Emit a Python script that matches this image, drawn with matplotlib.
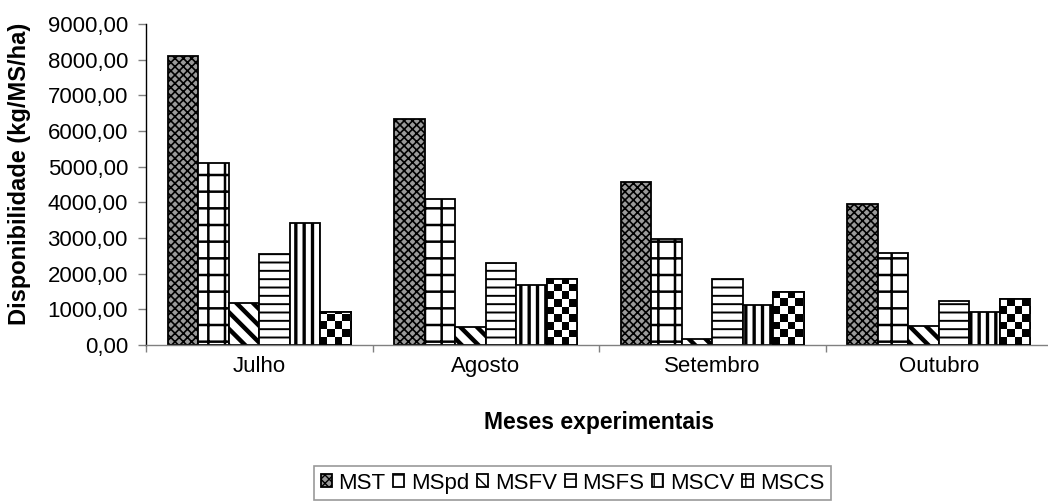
import numpy as np
import matplotlib
matplotlib.use("Agg")
import matplotlib.pyplot as plt
from matplotlib.ticker import FuncFormatter, FixedLocator
from matplotlib.patches import Rectangle

plt.rcParams['font.family'] = ['Liberation Sans', 'DejaVu Sans']

# data
meses = ['Julho', 'Agosto', 'Setembro', 'Outubro']
series = ['MST', 'MSpd', 'MSFV', 'MSFS', 'MSCV', 'MSCS']
mst = [8100, 6350, 4560, 3950]
mspd = [5100, 4100, 2970, 2570]
msfv = [1170, 510, 160, 520]
msfs = [2560, 2300, 1850, 1240]
mscv = [3430, 1690, 1130, 920]
mscs = [930, 1850, 1490, 1300]
valores = [mst, mspd, msfv, msfs, mscv, mscs]

# styles: (facecolor, hatch, hatch linewidth)
estilos = [
    ('#9a9a9a', 'xxxx', 1.2),
    ('white', '+', 1.8),
    ('white', '\\\\', 3.2),
    ('white', '--', 1.4),
    ('white', '||', 2.4),
    ('white', '', 1.0),
]

FS = 16
W, H = 1048, 504
fig = plt.figure(figsize=(W / 100, H / 100), dpi=100)
ax = fig.add_axes([146 / W, (H - 345) / H, 906 / W, 321 / H])

x = np.arange(len(meses))
bw = 0.135
barras = []
for i, (vals, (fc, hatch, hlw)) in enumerate(zip(valores, estilos)):
    with plt.rc_context({'hatch.linewidth': hlw, 'hatch.color': 'black'}):
        b = ax.bar(x + (i - 2.5) * bw, vals, bw, color=fc, hatch=hatch,
                   edgecolor='black', linewidth=1.3, label=series[i], zorder=2)
        for p in b:
            if hasattr(p, 'set_hatch_linewidth'):
                p.set_hatch_linewidth(hlw)
    barras.append(b)

ax.set_xlim(-0.5, 3.5)
ax.set_ylim(0, 9000)

# checkerboard texture for MSCS, clipped to each bar
nx, ny = int(906 / 7.5), int(321 / 7.5)
cheq = (np.add.outer(np.arange(ny), np.arange(nx)) % 2).astype(float)
for p in barras[5]:
    im = ax.imshow(cheq, cmap='gray', extent=[0, 1, 0, 1], transform=ax.transAxes,
                   interpolation='nearest', aspect='auto', zorder=2.5)
    im.set_clip_path(p)
    ax.add_patch(Rectangle((p.get_x(), 0), p.get_width(), p.get_height(),
                           fill=False, edgecolor='black', linewidth=1.3, zorder=3))

# axes styling
for s in ['top', 'right']:
    ax.spines[s].set_visible(False)
ax.spines['left'].set_color('black')
ax.spines['bottom'].set_color('#808080')
ax.spines['left'].set_linewidth(1.0)
ax.spines['bottom'].set_linewidth(1.0)

ax.yaxis.set_major_locator(FixedLocator(np.arange(0, 9001, 1000)))
ax.yaxis.set_major_formatter(FuncFormatter(lambda v, p: f'{v:.2f}'.replace('.', ',')))
ax.tick_params(axis='y', direction='out', length=6, width=1, color='#808080',
               pad=7, labelsize=FS)

ax.set_xticks(x)
ax.set_xticklabels(meses)
ax.set_xticks(np.arange(-0.5, 4.0, 1.0), minor=True)
ax.tick_params(axis='x', which='major', length=0, pad=8, labelsize=FS)
ax.tick_params(axis='x', which='minor', length=5, width=1, color='#808080')

fig.text(20 / W, 1 - 174 / H, 'Disponibilidade (kg/MS/ha)', rotation=90,
         ha='center', va='center', fontsize=17, fontweight='bold')
fig.text(599 / W, 1 - 422 / H, 'Meses experimentais', ha='center', va='center',
         fontsize=16.5, fontweight='bold')

# legend: proxy handle for the checkerboard series
handles = [b for b in barras[:5]]
with plt.rc_context({'hatch.linewidth': 2.5}):
    proxy = Rectangle((0, 0), 1, 1, facecolor='white', edgecolor='black',
                      hatch='++', linewidth=1.3)
    if hasattr(proxy, 'set_hatch_linewidth'):
        proxy.set_hatch_linewidth(2.5)
handles.append(proxy)
leg = fig.legend(handles, series, loc='upper left',
                 bbox_to_anchor=(314 / W, 1 - 466 / H), ncol=6,
                 fontsize=FS, frameon=True, fancybox=False, edgecolor='#808080',
                 handlelength=0.5, handleheight=0.5, handletextpad=0.3,
                 columnspacing=0.35, borderpad=0.3, borderaxespad=0)
leg.get_frame().set_linewidth(1.2)

fig.savefig('out.png', dpi=100, facecolor='white')
